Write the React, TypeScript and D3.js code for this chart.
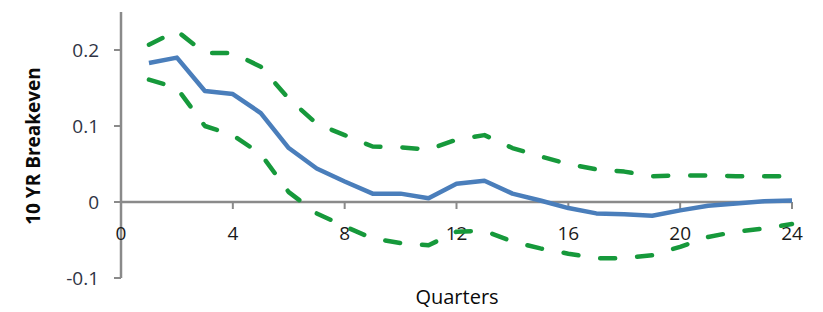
import React from "react";
import * as d3 from "d3";

const quarters = [1, 2, 3, 4, 5, 6, 7, 8, 9, 10, 11, 12, 13, 14, 15, 16, 17, 18, 19, 20, 21, 22, 23, 24];
const meanVals = [0.183, 0.19, 0.146, 0.142, 0.117, 0.071, 0.044, 0.027, 0.011, 0.011, 0.005, 0.024, 0.028, 0.011, 0.002, -0.008, -0.015, -0.016, -0.018, -0.011, -0.005, -0.002, 0.001, 0.002];
const upperVals = [0.207, 0.225, 0.196, 0.196, 0.178, 0.136, 0.103, 0.088, 0.073, 0.072, 0.069, 0.082, 0.088, 0.071, 0.06, 0.05, 0.043, 0.04, 0.034, 0.035, 0.035, 0.034, 0.034, 0.034];
const lowerVals = [0.161, 0.15, 0.1, 0.088, 0.063, 0.013, -0.015, -0.032, -0.048, -0.054, -0.057, -0.039, -0.038, -0.052, -0.061, -0.068, -0.074, -0.074, -0.07, -0.059, -0.046, -0.039, -0.035, -0.029];
const xTicks = [0, 4, 8, 12, 16, 20, 24];
const yTicks = [-0.1, 0, 0.1, 0.2];
const yTickLabels = ["-0.1", "0", "0.1", "0.2"];

const W = 823;
const H = 312;
const FONT = "'Open Sans', 'Liberation Sans', sans-serif";

export default function App() {
  const x = d3.scaleLinear().domain([0, 24]).range([121, 792]);
  const y = d3.scaleLinear().domain([-0.1, 0.25]).range([278, 12]);
  const line = d3
    .line<number>()
    .x((_, i) => x(quarters[i]))
    .y((d) => y(d));
  const axisColor = "#8a8a8a";
  return (
    <svg
      width={W}
      height={H}
      style={{ position: "absolute", left: 0, top: 0, background: "#fff" }}
      fontFamily={FONT}
    >
      {/* y axis */}
      <line x1={x(0)} x2={x(0)} y1={y(0.25)} y2={y(-0.1)} stroke={axisColor} strokeWidth={2.5} />
      {yTicks.map((t, i) => (
        <g key={"y" + i}>
          <line x1={x(0) - 7} x2={x(0)} y1={y(t)} y2={y(t)} stroke={axisColor} strokeWidth={2} />
          <text x={99} y={y(t) + 7} textAnchor="end" fontSize={19} fill="#2f3445">
            {yTickLabels[i]}
          </text>
        </g>
      ))}
      {/* x axis */}
      <line x1={x(0)} x2={x(24)} y1={y(0)} y2={y(0)} stroke={axisColor} strokeWidth={2.5} />
      {xTicks.map((t) => (
        <g key={"x" + t}>
          <line x1={x(t)} x2={x(t)} y1={y(0)} y2={y(0) + 7} stroke={axisColor} strokeWidth={2} />
          <text x={x(t)} y={240} textAnchor="middle" fontSize={19} fill="#1a1a1a">
            {t}
          </text>
        </g>
      ))}
      {/* series */}
      <path d={line(upperVals) || ""} fill="none" stroke="#16993b" strokeWidth={4.5} strokeDasharray="15,22" strokeLinecap="round" strokeLinejoin="round" />
      <path d={line(lowerVals) || ""} fill="none" stroke="#16993b" strokeWidth={4.5} strokeDasharray="15,22" strokeLinecap="round" strokeLinejoin="round" />
      <path d={line(meanVals) || ""} fill="none" stroke="#4a7ebb" strokeWidth={4.5} strokeLinejoin="round" />
      {/* axis titles */}
      <text x={457} y={304} textAnchor="middle" fontSize={20} fill="#0a0a0a">
        Quarters
      </text>
      <text
        transform={`translate(40,146) rotate(-90)`}
        textAnchor="middle"
        fontSize={19}
        fontWeight="bold"
        fill="#0a0a0a"
      >
        10 YR Breakeven
      </text>
    </svg>
  );
}
